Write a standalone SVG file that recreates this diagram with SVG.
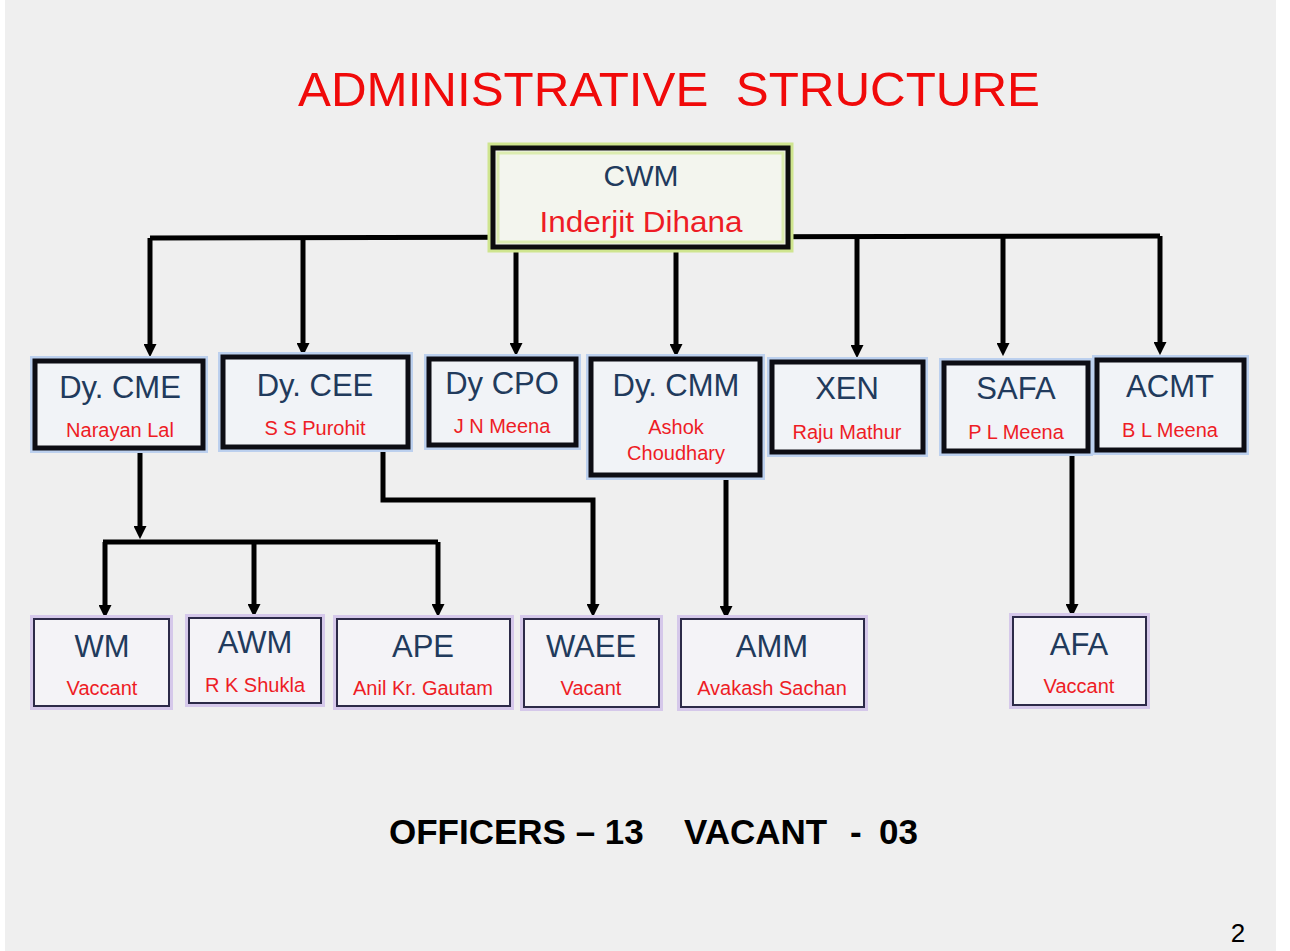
<svg xmlns="http://www.w3.org/2000/svg" width="1290" height="951" viewBox="0 0 1290 951">
<defs>
<marker id="arr" viewBox="0 0 10 10" refX="3" refY="5" markerWidth="13" markerHeight="13" markerUnits="userSpaceOnUse" orient="auto">
<path d="M0,0 L10,5 L0,10 z" fill="#000"/>
</marker>
<style>
.bg{fill:#efefef}
.con{fill:none;stroke:#000;stroke-width:5;stroke-linejoin:miter}
.arrow{marker-end:url(#arr)}
.g2{fill:none;stroke:#bcd0ee;stroke-width:10}
.b2{fill:#f1f3f7;stroke:#0d0d14;stroke-width:5}
.g3{fill:none;stroke:#d5c8ea;stroke-width:8}
.b3{fill:#f4f3f7;stroke:#2c2a48;stroke-width:2}
.t{font-family:"Liberation Sans",Arial,sans-serif;fill:#213a5c;text-anchor:middle}
.n{font-family:"Liberation Sans",Arial,sans-serif;fill:#ee1c25;text-anchor:middle}
.t2{font-size:31px}
.n2{font-size:20px}
</style>
</defs>
<rect x="0" y="0" width="1290" height="951" fill="#ffffff"/>
<rect class="bg" x="5" y="0" width="1271" height="951"/>
<text x="669" y="106" font-family="'Liberation Sans',Arial,sans-serif" font-size="49" fill="#f00a0a" text-anchor="middle" textLength="742" lengthAdjust="spacingAndGlyphs" xml:space="preserve">ADMINISTRATIVE  STRUCTURE</text>

<g id="connectors">
<path class="con" d="M150,238 L1160,236"/>
<path class="con arrow" d="M150,238 V348"/>
<path class="con arrow" d="M303,238 V347"/>
<path class="con arrow" d="M516,249 V347"/>
<path class="con arrow" d="M676,249 V348"/>
<path class="con arrow" d="M857,237 V349"/>
<path class="con arrow" d="M1003,237 V347"/>
<path class="con arrow" d="M1160,236 V346"/>
<path class="con arrow" d="M140,450 V530"/>
<path class="con" d="M103,542 H438"/>
<path class="con arrow" d="M105,542 V609"/>
<path class="con arrow" d="M254,542 V608"/>
<path class="con arrow" d="M438,542 V608"/>
<path class="con arrow" d="M383,448 V500 H593 V608"/>
<path class="con arrow" d="M726,476 V610"/>
<path class="con arrow" d="M1072,452 V608"/>
</g>

<g id="cwm">
<rect x="493" y="148" width="295" height="99" fill="none" stroke="#cfe58f" stroke-width="11"/>
<rect x="493" y="148" width="295" height="99" fill="#f3f5ee" stroke="#0d0d0d" stroke-width="5"/>
<rect x="498" y="153" width="285" height="89" fill="none" stroke="#dcecb0" stroke-width="3"/>
<text class="t" x="641" y="186" font-size="30">CWM</text>
<text class="n" x="641" y="232" font-size="29" textLength="203" lengthAdjust="spacingAndGlyphs">Inderjit Dihana</text>
</g>

<g id="dycme">
<rect class="g2" x="35" y="361" width="168" height="87"/>
<rect class="b2" x="35" y="361" width="168" height="87"/>
<text class="t t2" x="120" y="398">Dy. CME</text>
<text class="n n2" x="120" y="437">Narayan Lal</text>
</g>
<g id="dycee">
<rect class="g2" x="223" y="357" width="185" height="90"/>
<rect class="b2" x="223" y="357" width="185" height="90"/>
<text class="t t2" x="315" y="396">Dy. CEE</text>
<text class="n n2" x="315" y="435">S S Purohit</text>
</g>
<g id="dycpo">
<rect class="g2" x="429" y="359" width="147" height="86"/>
<rect class="b2" x="429" y="359" width="147" height="86"/>
<text class="t t2" x="502" y="394">Dy CPO</text>
<text class="n n2" x="502" y="433">J N Meena</text>
</g>
<g id="dycmm">
<rect class="g2" x="591" y="359" width="169" height="116"/>
<rect class="b2" x="591" y="359" width="169" height="116"/>
<text class="t t2" x="676" y="396">Dy. CMM</text>
<text class="n n2" x="676" y="434">Ashok</text>
<text class="n n2" x="676" y="460">Choudhary</text>
</g>
<g id="xen">
<rect class="g2" x="772" y="362" width="151" height="90"/>
<rect class="b2" x="772" y="362" width="151" height="90"/>
<text class="t t2" x="847" y="399">XEN</text>
<text class="n n2" x="847" y="439">Raju Mathur</text>
</g>
<g id="safa">
<rect class="g2" x="944" y="363" width="144" height="88"/>
<rect class="b2" x="944" y="363" width="144" height="88"/>
<text class="t t2" x="1016" y="399">SAFA</text>
<text class="n n2" x="1016" y="439">P L Meena</text>
</g>
<g id="acmt">
<rect class="g2" x="1097" y="360" width="147" height="90"/>
<rect class="b2" x="1097" y="360" width="147" height="90"/>
<text class="t t2" x="1170" y="397">ACMT</text>
<text class="n n2" x="1170" y="437">B L Meena</text>
</g>

<g id="wm">
<rect class="g3" x="34" y="619" width="135" height="87"/>
<rect class="b3" x="34" y="619" width="135" height="87"/>
<text class="t t2" x="102" y="657">WM</text>
<text class="n n2" x="102" y="695">Vaccant</text>
</g>
<g id="awm">
<rect class="g3" x="189" y="618" width="132" height="85"/>
<rect class="b3" x="189" y="618" width="132" height="85"/>
<text class="t t2" x="255" y="653">AWM</text>
<text class="n n2" x="255" y="692">R K Shukla</text>
</g>
<g id="ape">
<rect class="g3" x="337" y="619" width="173" height="87"/>
<rect class="b3" x="337" y="619" width="173" height="87"/>
<text class="t t2" x="423" y="657">APE</text>
<text class="n n2" x="423" y="695">Anil Kr. Gautam</text>
</g>
<g id="waee">
<rect class="g3" x="524" y="619" width="135" height="88"/>
<rect class="b3" x="524" y="619" width="135" height="88"/>
<text class="t t2" x="591" y="657">WAEE</text>
<text class="n n2" x="591" y="695">Vacant</text>
</g>
<g id="amm">
<rect class="g3" x="681" y="619" width="183" height="88"/>
<rect class="b3" x="681" y="619" width="183" height="88"/>
<text class="t t2" x="772" y="657">AMM</text>
<text class="n n2" x="772" y="695">Avakash Sachan</text>
</g>
<g id="afa">
<rect class="g3" x="1013" y="617" width="133" height="88"/>
<rect class="b3" x="1013" y="617" width="133" height="88"/>
<text class="t t2" x="1079" y="655">AFA</text>
<text class="n n2" x="1079" y="693">Vaccant</text>
</g>

<g id="summary" font-family="'Liberation Sans',Arial,sans-serif" font-weight="bold" font-size="35" fill="#000">
<text x="389" y="844">OFFICERS – 13</text>
<text x="684" y="844">VACANT</text>
<text x="850" y="844">-</text>
<text x="879" y="844">03</text>
</g>
<text x="1238" y="942" font-family="'Liberation Sans',Arial,sans-serif" font-size="26" fill="#000" text-anchor="middle">2</text>
</svg>
